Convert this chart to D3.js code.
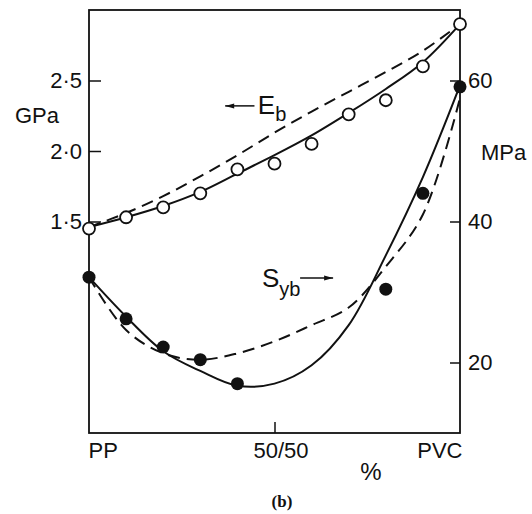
<!DOCTYPE html>
<html>
<head>
<meta charset="utf-8">
<script src="https://cdn.jsdelivr.net/npm/d3@7"></script>
<style>
    body { margin: 0; background: #fff; }
    text { font-family: "Liberation Sans", Arial, sans-serif; fill: #111; }
</style>
</head>
<body>
<div id="chart"></div>
<script>
// composition, % PVC
var blendX = [0, 10, 20, 30, 40, 50, 60, 70, 80, 90, 100];

// E_b, GPa (left axis)
var ebMeasured = [1.45, 1.53, 1.60, 1.70, 1.87, 1.91, 2.05, 2.26, 2.36, 2.60, 2.90];
var ebSolid    = [1.46, 1.53, 1.61, 1.71, 1.84, 1.97, 2.11, 2.27, 2.44, 2.63, 2.90];
var ebDashed   = [1.46, 1.56, 1.68, 1.82, 1.97, 2.13, 2.28, 2.42, 2.56, 2.71, 2.90];

// S_yb, MPa (right axis)
var sybX        = [0, 10, 20, 30, 40, 80, 90, 100];
var sybMeasured = [32.1, 26.2, 22.2, 20.4, 17.0, 30.4, 44.0, 59.1];
var sybSolid    = [32.1, 26.5, 21.6, 18.8, 16.7, 17.0, 19.6, 25.3, 35.2, 46.3, 59.3];
var sybDashed   = [32.1, 24.6, 21.3, 20.4, 21.3, 23.0, 25.3, 27.8, 33.6, 41.0, 57.5];

// tick labels
var leftTicks = [1.5, 2.0, 2.5];
var rightTicks = [20, 40, 60];
var bottomTicks = [0, 50, 100];
var bottomLabels = ["PP", "50/50", "PVC"];

const margin = { top: 10, right: 72, bottom: 81, left: 89 };
const width = 532 - margin.left - margin.right;
const height = 514 - margin.top - margin.bottom;

var svg = d3.select("#chart")
    .append("svg")
    .attr("width", 532)
    .attr("height", 514)
    .append("g")
    .attr("transform", "translate(" + margin.left + "," + margin.top + ")");

var x = d3.scaleLinear().domain([0, 100]).range([0, width]);
var yL = d3.scaleLinear().domain([0, 3]).range([height, 0]);
var yR = d3.scaleLinear().domain([10, 70]).range([height, 0]);

// frame
svg.append("rect")
    .attr("width", width)
    .attr("height", height)
    .attr("fill", "none")
    .attr("stroke", "#111")
    .attr("stroke-width", 1.8);

// left axis, ticks pointing in
var gLeft = svg.append("g")
    .call(d3.axisLeft(yL).tickValues(leftTicks).tickSize(-12).tickPadding(7)
        .tickFormat(d => d3.format(".1f")(d).replace(".", "\u00b7")));

// right axis
var gRight = svg.append("g")
    .attr("transform", "translate(" + width + ",0)")
    .call(d3.axisRight(yR).tickValues(rightTicks).tickSize(-10).tickPadding(8));

// bottom axis
var gBottom = svg.append("g")
    .attr("transform", "translate(0," + height + ")")
    .call(d3.axisBottom(x).tickValues(bottomTicks).tickSize(-11).tickPadding(9)
        .tickFormat((d, i) => bottomLabels[i]));

[gLeft, gRight, gBottom].forEach(g => {
    g.select(".domain").remove();
    g.selectAll("line").attr("stroke", "#111").attr("stroke-width", 1.5);
    g.selectAll("text")
        .style("font-family", "'Liberation Sans', Arial, sans-serif")
        .style("font-size", "22px")
        .attr("fill", "#111");
});
gBottom.selectAll(".tick line").filter(d => d != 50).remove();
gBottom.selectAll("text")
    .attr("text-anchor", d => d == 0 ? "start" : (d == 100 ? "end" : "middle"))
    .attr("dx", d => d == 0 ? -1 : (d == 100 ? 2 : 6));

// axis titles
svg.append("text")
    .attr("x", 15 - margin.left)
    .attr("y", 123 - margin.top)
    .style("font-size", "22px")
    .text("GPa");

svg.append("text")
    .attr("x", 481 - margin.left)
    .attr("y", 160 - margin.top)
    .style("font-size", "22px")
    .text("MPa");

svg.append("text")
    .attr("x", x(76))
    .attr("y", height + 47)
    .attr("text-anchor", "middle")
    .style("font-size", "24px")
    .text("%");

svg.append("text")
    .attr("x", x(52))
    .attr("y", height + 74)
    .attr("text-anchor", "middle")
    .style("font-family", "'Liberation Serif', serif")
    .style("font-weight", "bold")
    .style("font-size", "17px")
    .text("(b)");

// curves
var lineL = d3.line()
    .x((d, i) => x(blendX[i]))
    .y(d => yL(d))
    .curve(d3.curveCatmullRom.alpha(0.5));

var lineR = d3.line()
    .x((d, i) => x(blendX[i]))
    .y(d => yR(d))
    .curve(d3.curveCatmullRom.alpha(0.5));

var curves = [
    { data: ebSolid, line: lineL, dash: null },
    { data: ebDashed, line: lineL, dash: "12,7" },
    { data: sybSolid, line: lineR, dash: null },
    { data: sybDashed, line: lineR, dash: "12,7" }
];

svg.append("g")
    .selectAll("path")
    .data(curves)
    .enter()
    .append("path")
    .attr("d", c => c.line(c.data))
    .attr("fill", "none")
    .attr("stroke", "#111")
    .attr("stroke-width", 2)
    .attr("stroke-dasharray", c => c.dash);

// measured points
svg.append("g")
    .selectAll("circle")
    .data(ebMeasured)
    .enter()
    .append("circle")
    .attr("cx", (d, i) => x(blendX[i]))
    .attr("cy", d => yL(d))
    .attr("r", 6)
    .attr("fill", "#fff")
    .attr("stroke", "#111")
    .attr("stroke-width", 1.8);

svg.append("g")
    .selectAll("circle")
    .data(sybMeasured)
    .enter()
    .append("circle")
    .attr("cx", (d, i) => x(sybX[i]))
    .attr("cy", d => yR(d))
    .attr("r", 6.5)
    .attr("fill", "#111");

// annotation arrows
function arrow(x1, x2, y, pointLeft) {
    svg.append("line")
        .attr("x1", x1).attr("x2", x2)
        .attr("y1", y).attr("y2", y)
        .attr("stroke", "#111")
        .attr("stroke-width", 1.5);
    var tip = pointLeft ? x1 : x2;
    var k = pointLeft ? 1 : -1;
    svg.append("path")
        .attr("d", "M" + tip + "," + y + "L" + (tip + k * 9) + "," + (y - 2.5) + "L" + (tip + k * 9) + "," + (y + 2.5) + "Z")
        .attr("fill", "#111");
}

arrow(x(36.7), x(44.6), yL(2.32), true);
var eb = svg.append("text")
    .attr("x", x(45.5))
    .attr("y", yL(2.26))
    .style("font-size", "26px");
eb.append("tspan").text("E");
eb.append("tspan").attr("dy", 7).style("font-size", "20px").text("b");

var syb = svg.append("text")
    .attr("x", x(46.6))
    .attr("y", yR(30.7))
    .style("font-size", "26px");
syb.append("tspan").text("S");
syb.append("tspan").attr("dy", 9).style("font-size", "20px").text("yb");
arrow(x(56.9), x(65.8), yR(32), false);
</script>
</body>
</html>
